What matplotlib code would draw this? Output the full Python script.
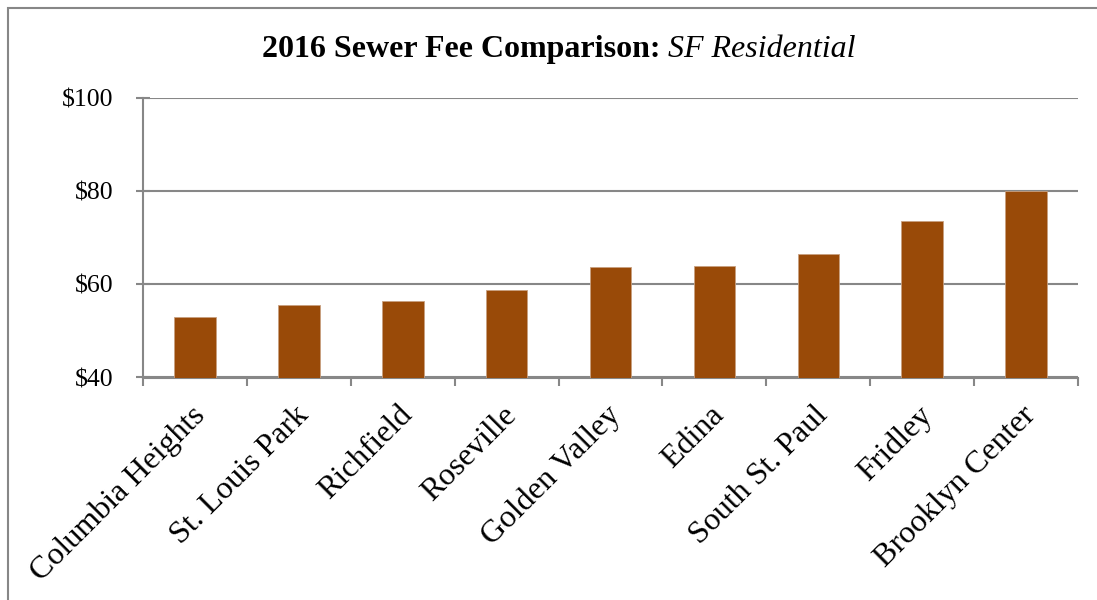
import matplotlib
matplotlib.use("Agg")
import matplotlib.pyplot as plt
import matplotlib.ticker as ticker
from matplotlib.patches import Rectangle

cities = ["Columbia Heights", "St. Louis Park", "Richfield", "Roseville",
          "Golden Valley", "Edina", "South St. Paul", "Fridley", "Brooklyn Center"]
fees = [52.9, 55.5, 56.5, 58.7, 63.7, 64.0, 66.6, 73.5, 80.0]
yticks = [40, 60, 80, 100]

plt.rcParams['font.family'] = ['Liberation Serif', 'DejaVu Serif']
grey = '#878787'

fig = plt.figure(figsize=(10.97, 6), dpi=100)
ax = fig.add_axes([143 / 1097, 1 - 377.5 / 600, (1078 - 143) / 1097, (377.5 - 98) / 600])

x = range(len(cities))
ax.bar(x, fees, width=0.4, color='#994A08', edgecolor='#c8a080', linewidth=0.6, zorder=3)

ax.set_ylim(40, 100)
ax.set_xlim(-0.5, len(cities) - 0.5)
ax.set_yticks(yticks)
ax.yaxis.set_major_formatter(ticker.FuncFormatter(lambda v, _: f'${v:.0f}'))
ax.grid(axis='y', color=grey, linewidth=1.5, zorder=0)

for s in ['top', 'right']:
    ax.spines[s].set_visible(False)
for s in ['left', 'bottom']:
    ax.spines[s].set_color(grey)
    ax.spines[s].set_linewidth(1.5)

# category separators as tick marks
ax.set_xticks([i - 0.5 for i in range(len(cities) + 1)])
ax.set_xticklabels([])
ax.tick_params(axis='x', direction='out', length=6, width=1.5, color=grey)
ax.tick_params(axis='y', direction='inout', length=10, width=1.5, color=grey,
               labelsize=18.5, pad=16.5)

for i, name in enumerate(cities):
    ax.annotate(name, xy=(i, 40), xycoords='data', xytext=(4, -24),
                textcoords='offset points', rotation=45, rotation_mode='anchor',
                ha='right', va='center', fontsize=23)

# title: bold part + italic part
fig.canvas.draw()
r = fig.canvas.get_renderer()
t1 = fig.text(0, 0.918, "2016 Sewer Fee Comparison: ", fontsize=23, fontweight='bold',
              ha='left', va='center')
t2 = fig.text(0, 0.918, "SF Residential", fontsize=23, fontstyle='italic',
              ha='left', va='center')
w1 = t1.get_window_extent(r).width / fig.bbox.width
w2 = t2.get_window_extent(r).width / fig.bbox.width
start = 558.5 / 1097 - (w1 + w2) / 2
t1.set_x(start)
t2.set_x(start + w1)

# outer chart frame
fig.patches.append(Rectangle((8 / 1097, -0.1), 1.2, 1 - 8 / 600 + 0.1,
                             transform=fig.transFigure, fill=False,
                             edgecolor=grey, linewidth=1.5))

fig.savefig("out.png", dpi=100)
